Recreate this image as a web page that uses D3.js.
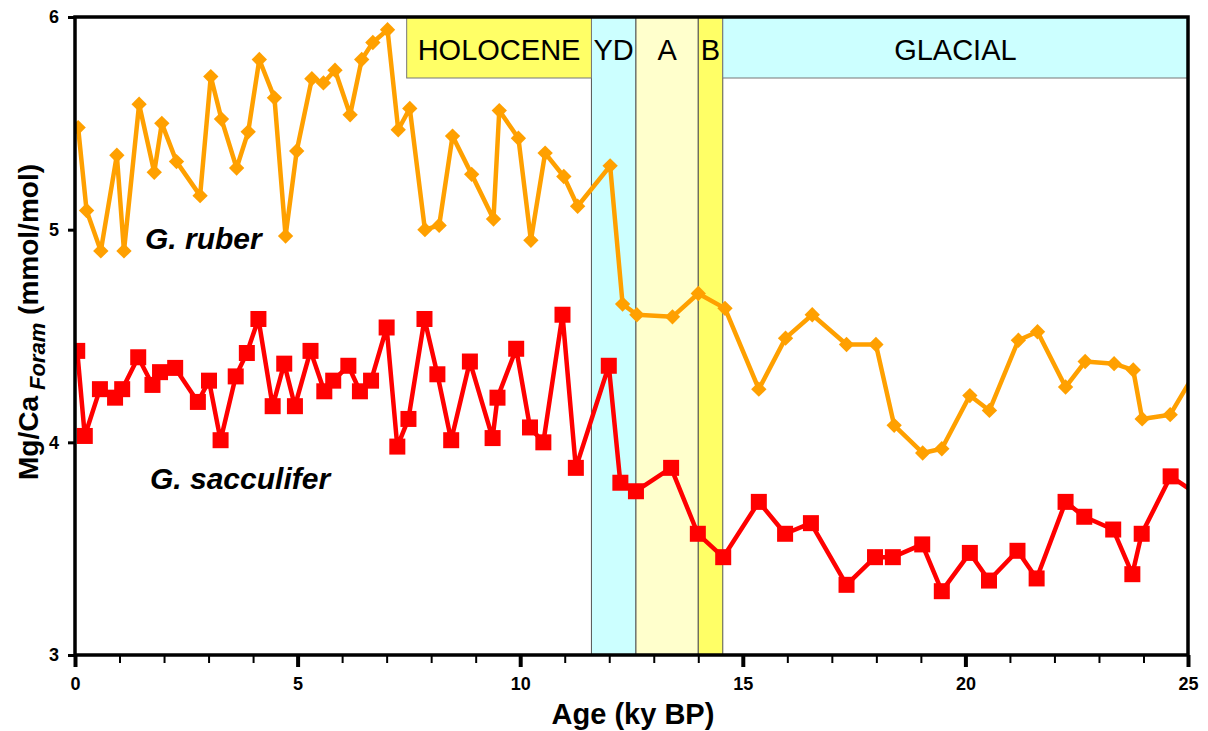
<!DOCTYPE html>
<html>
<head>
<meta charset="utf-8">
<script src="https://cdn.jsdelivr.net/npm/d3@7"></script>
<style>
  body { margin: 0; background: #fff; }
  text { font-family: "Liberation Sans", Arial, sans-serif; }
</style>
</head>
<body>
<script>
// G. ruber (orange diamonds): age (ky BP) and Mg/Ca
var ruberAge = [0.07, 0.26, 0.58, 0.94, 1.10, 1.44, 1.78, 1.95, 2.28, 2.81, 3.05, 3.29, 3.63, 3.89, 4.14, 4.48, 4.73, 4.98, 5.32, 5.58,
  5.84, 6.18, 6.44, 6.69, 7.02, 7.26, 7.52, 7.86, 8.18, 8.48, 8.91, 9.40, 9.53, 9.96, 10.24, 10.56, 10.98, 11.29, 12.02,
  12.30, 12.62, 13.42, 14.00, 14.60, 15.36, 15.96, 16.56, 17.33, 17.99, 18.40, 19.04, 19.47, 20.10, 20.54, 21.19, 21.62,
  22.25, 22.69, 23.34, 23.77, 23.97, 24.60, 25.25];
var ruberMgCa = [5.48, 5.09, 4.90, 5.35, 4.90, 5.59, 5.27, 5.50, 5.32, 5.16, 5.72, 5.52, 5.29, 5.46, 5.80, 5.62, 4.97, 5.37, 5.71, 5.69,
  5.75, 5.54, 5.80, 5.88, 5.94, 5.47, 5.57, 5.00, 5.02, 5.44, 5.26, 5.05, 5.56, 5.43, 4.95, 5.36, 5.25, 5.11, 5.30,
  4.65, 4.60, 4.59, 4.70, 4.63, 4.25, 4.49, 4.60, 4.46, 4.46, 4.08, 3.95, 3.97, 4.22, 4.15, 4.48, 4.52,
  4.26, 4.38, 4.37, 4.34, 4.11, 4.13, 4.36];

// G. sacculifer (red squares)
var saccAge = [0.05, 0.22, 0.56, 0.90, 1.06, 1.42, 1.74, 1.91, 2.25, 2.76, 3.01, 3.27, 3.61, 3.86, 4.12, 4.44, 4.70, 4.94, 5.29, 5.60,
  5.80, 6.14, 6.40, 6.65, 7.00, 7.24, 7.49, 7.85, 8.14, 8.45, 8.87, 9.38, 9.49, 9.91, 10.22, 10.52, 10.95, 11.25, 11.99, 12.25,
  12.60, 13.39, 13.99, 14.56, 15.36, 15.95, 16.53, 17.33, 17.97, 18.37, 19.03, 19.47, 20.10, 20.53, 21.17, 21.60,
  22.25, 22.67, 23.32, 23.75, 23.96, 24.61, 25.25];
var saccMgCa = [4.43, 4.03, 4.25, 4.21, 4.25, 4.40, 4.27, 4.33, 4.35, 4.19, 4.29, 4.01, 4.31, 4.42, 4.58, 4.17, 4.37, 4.17, 4.43, 4.24,
  4.29, 4.36, 4.24, 4.29, 4.54, 3.98, 4.11, 4.58, 4.32, 4.01, 4.38, 4.02, 4.21, 4.44, 4.07, 4.00, 4.60, 3.88, 4.36, 3.81,
  3.77, 3.88, 3.57, 3.46, 3.72, 3.57, 3.62, 3.33, 3.46, 3.46, 3.52, 3.30, 3.48, 3.35, 3.49, 3.36,
  3.72, 3.65, 3.59, 3.38, 3.57, 3.84, 3.75];

// climate intervals: name, start, end (ky BP)
var bandNames = ["YD", "A", "B"];
var bandStart = [11.6, 12.6, 14.0];
var bandEnd = [12.6, 14.0, 14.55];
var bandColor = ["#ccffff", "#ffffcc", "#ffff66"];

var headNames = ["HOLOCENE", "GLACIAL"];
var headStart = [7.45, 14.55];
var headEnd = [11.6, 25];
var headColor = ["#ffff66", "#ccffff"];

var xTicks = [0, 5, 10, 15, 20, 25];
var yTicks = [3, 4, 5, 6];

var w = 1208, h = 731;
var pLeft = 75, pRight = 1188, pTop = 17, pBottom = 655;
var tickFont = "'Liberation Sans', Arial, sans-serif";

var svg = d3.select("body").append("svg")
  .attr("width", w)
  .attr("height", h);

var x = d3.scaleLinear().domain([0, 25]).range([pLeft, pRight]);
var y = d3.scaleLinear().domain([3, 6]).range([pBottom, pTop]);

svg.append("clipPath").attr("id", "plot")
  .append("rect")
  .attr("x", pLeft).attr("y", pTop)
  .attr("width", pRight - pLeft).attr("height", pBottom - pTop);

// full-height bands
var bands = bandNames.map(function(d, i) { return { name: d, s: bandStart[i], e: bandEnd[i], c: bandColor[i] }; });
svg.selectAll("rect.band")
  .data(bands)
  .enter()
  .append("rect")
  .attr("class", "band")
  .attr("x", function(d) { return x(d.s); })
  .attr("y", pTop)
  .attr("width", function(d) { return x(d.e) - x(d.s); })
  .attr("height", pBottom - pTop)
  .attr("fill", function(d) { return d.c; })
  .attr("stroke", "#555")
  .attr("stroke-width", 1);

// header boxes
var heads = headNames.map(function(d, i) { return { name: d, s: headStart[i], e: headEnd[i], c: headColor[i] }; });
var headH = 61;
svg.selectAll("rect.head")
  .data(heads)
  .enter()
  .append("rect")
  .attr("class", "head")
  .attr("x", function(d) { return x(d.s); })
  .attr("y", pTop)
  .attr("width", function(d) { return x(d.e) - x(d.s); })
  .attr("height", headH)
  .attr("fill", function(d) { return d.c; })
  .attr("stroke", "#777")
  .attr("stroke-width", 1);

svg.selectAll("text.head")
  .data(heads.concat(bands))
  .enter()
  .append("text")
  .attr("x", function(d) { return (x(d.s) + x(d.e)) / 2; })
  .attr("y", 60)
  .attr("text-anchor", "middle")
  .style("font-size", "29px")
  .attr("fill", "#000")
  .text(function(d) { return d.name; });

// series
var ruber = ruberAge.map(function(a, i) { return [a, ruberMgCa[i]]; });
var sacc = saccAge.map(function(a, i) { return [a, saccMgCa[i]]; });

var line = d3.line()
  .x(function(d) { return x(d[0]); })
  .y(function(d) { return y(d[1]); });

var plot = svg.append("g").attr("clip-path", "url(#plot)");

plot.append("path")
  .datum(ruber)
  .attr("d", line)
  .attr("fill", "none")
  .attr("stroke", "#ffa000")
  .attr("stroke-width", 4.5)
  .attr("stroke-linejoin", "round");

plot.selectAll("path.dia")
  .data(ruber)
  .enter()
  .append("path")
  .attr("class", "dia")
  .attr("d", d3.symbol().type(d3.symbolDiamond2).size(150))
  .attr("transform", function(d) { return "translate(" + x(d[0]) + "," + y(d[1]) + ")"; })
  .attr("fill", "#ffa000");

plot.append("path")
  .datum(sacc)
  .attr("d", line)
  .attr("fill", "none")
  .attr("stroke", "#ff0000")
  .attr("stroke-width", 4.5)
  .attr("stroke-linejoin", "round");

plot.selectAll("rect.sq")
  .data(sacc)
  .enter()
  .append("rect")
  .attr("class", "sq")
  .attr("x", function(d) { return x(d[0]) - 8; })
  .attr("y", function(d) { return y(d[1]) - 8; })
  .attr("width", 16)
  .attr("height", 16)
  .attr("fill", "#ff0000");

// series labels
svg.append("text")
  .attr("x", 145).attr("y", 249)
  .style("font-size", "30px").style("font-weight", "bold").style("font-style", "italic")
  .text("G. ruber");
svg.append("text")
  .attr("x", 150).attr("y", 489)
  .style("font-size", "30px").style("font-weight", "bold").style("font-style", "italic")
  .text("G. sacculifer");

// frame
svg.append("rect")
  .attr("x", pLeft).attr("y", pTop)
  .attr("width", pRight - pLeft).attr("height", pBottom - pTop)
  .attr("fill", "none")
  .attr("stroke", "#000")
  .attr("stroke-width", 3.5);

// x axis with minor ticks
var xAxis = d3.axisBottom(x).tickValues(d3.range(0, 26, 1)).tickSize(8)
  .tickFormat(function(d) { return xTicks.indexOf(d) >= 0 ? d : ""; });
var gx = svg.append("g")
  .attr("transform", "translate(0," + pBottom + ")")
  .call(xAxis);
gx.select(".domain").remove();
gx.selectAll(".tick line")
  .attr("stroke-width", function(d) { return d % 5 === 0 ? 4 : 2; })
  .attr("y2", function(d) { return d % 5 === 0 ? 12 : 8; });
gx.selectAll(".tick text")
  .attr("y", 22)
  .style("font-size", "18px")
  .style("font-weight", "bold")
  .style("font-family", tickFont)
  .attr("fill", "#000");

var yAxis = d3.axisLeft(y).tickValues(yTicks).tickSize(7).tickFormat(d3.format("d"));
var gy = svg.append("g")
  .attr("transform", "translate(" + pLeft + ",0)")
  .call(yAxis);
gy.select(".domain").remove();
gy.selectAll(".tick line").attr("stroke-width", 3);
gy.selectAll(".tick text")
  .attr("x", -16)
  .style("font-size", "18px")
  .style("font-weight", "bold")
  .style("font-family", tickFont)
  .attr("fill", "#000");

// axis titles
svg.append("text")
  .attr("x", 633).attr("y", 724)
  .attr("text-anchor", "middle")
  .style("font-size", "29px").style("font-weight", "bold")
  .text("Age (ky BP)");

var yl = svg.append("text")
  .attr("transform", "translate(38,322) rotate(-90)")
  .attr("text-anchor", "middle")
  .style("font-size", "28px").style("font-weight", "bold");
yl.append("tspan").text("Mg/Ca");
yl.append("tspan").style("font-size", "22px").style("font-style", "italic").attr("dy", 7).text(" Foram");
yl.append("tspan").attr("dy", -7).text(" (mmol/mol)");
</script>
</body>
</html>
